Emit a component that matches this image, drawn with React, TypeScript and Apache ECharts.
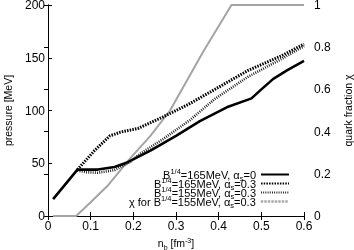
import React, { useEffect, useRef } from 'react';
import * as echarts from 'echarts';

// B^{1/4}=165MeV, alpha_s=0
const nbSolid = [0.012, 0.069, 0.09, 0.117, 0.156, 0.187, 0.211, 0.24, 0.3, 0.356, 0.419, 0.477, 0.5, 0.528, 0.56, 0.6];
const pSolid = [16, 44, 44, 44, 46.5, 51, 56, 62, 76, 90, 103, 111.5, 120, 130, 138, 147];
// B^{1/4}=165MeV, alpha_s=0.3
const nbDash = [0.069, 0.109, 0.145, 0.17, 0.211, 0.27, 0.33, 0.391, 0.469, 0.548, 0.6];
const pDash = [44, 62, 76, 79.5, 83, 94, 106, 120, 138, 152, 163];
// B^{1/4}=155MeV, alpha_s=0.3
const nbDot = [0.069, 0.09, 0.117, 0.156, 0.19, 0.216, 0.27, 0.333, 0.391, 0.469, 0.548, 0.6];
const pDot = [43, 41.5, 41, 43.5, 50.5, 59, 73, 91, 111, 132, 149, 161];
// chi for B^{1/4}=155MeV, alpha_s=0.3
const nbChi = [0.012, 0.066, 0.1, 0.141, 0.192, 0.24, 0.286, 0.325, 0.364, 0.43, 0.6];
const chi = [0, 0, 0.065, 0.146, 0.272, 0.38, 0.5, 0.64, 0.78, 1, 1];

const xTickLabels = ['0', '0.1', '0.2', '0.3', '0.4', '0.5', '0.6'];
const yLeftTickLabels = ['0', '50', '100', '150', '200'];
const yRightTickLabels = ['0', '0.2', '0.4', '0.6', '0.8', '1'];

const seriesNames = ['s165a0', 's165a3', 's155a3', 'chi155'];
const legendLabels = [
  '{n|B}{sup|1/4}{n|=165MeV, α}{sub|s}{n|=0}',
  '{n|B}{sup|1/4}{n|=165MeV, α}{sub|s}{n|=0.3}',
  '{n|B}{sup|1/4}{n|=155MeV, α}{sub|s}{n|=0.3}',
  '{n|χ for B}{sup|1/4}{n|=155MeV, α}{sub|s}{n|=0.3}',
];

const zip = (xs: number[], ys: number[]) => xs.map((x, i) => [x, ys[i]]);

export default function App() {
  const ref = useRef<HTMLDivElement>(null);
  useEffect(() => {
    const chart = echarts.init(ref.current!, null, { renderer: 'svg' });
    const font = 'Liberation Sans';
    const rich: any = {
      n: { fontSize: 11, fontFamily: font, verticalAlign: 'bottom', padding: [0, 0, 2, 0], color: '#000' },
      sup: { fontSize: 7.5, fontFamily: font, verticalAlign: 'bottom', padding: [0, 0, 7, 0], color: '#000' },
      sub: { fontSize: 7.5, fontFamily: font, verticalAlign: 'bottom', padding: [0, 0, 0, 0], color: '#000' },
    };
    const nameRich: any = {
      n: { fontSize: 10.5, fontFamily: font, verticalAlign: 'bottom', padding: [0, 0, 2, 0], color: '#000' },
      sup: { fontSize: 7, fontFamily: font, verticalAlign: 'bottom', padding: [0, 0, 7, 0], color: '#000' },
      sub: { fontSize: 7, fontFamily: font, verticalAlign: 'bottom', padding: [0, 0, 0, 0], color: '#000' },
    };
    const rowCenters = [175, 184, 193, 202];
    const axisLine = { show: true, lineStyle: { color: '#000', width: 1 } };
    const tick = { show: true, inside: true, length: 4, lineStyle: { color: '#000' } };
    const label = { color: '#000', fontFamily: font, fontSize: 12 };
    const legends = seriesNames.map((nm, i) => {
      const lg: any = {
        data: [nm],
        orient: 'vertical',
        right: 64,
        top: rowCenters[i] - 8,
        align: 'right',
        itemWidth: 28,
        itemHeight: 6,
        itemGap: 0,
        padding: 0,
        selectedMode: false,
        itemStyle: { opacity: 0 },
        formatter: () => legendLabels[i],
        textStyle: { fontFamily: font, fontSize: 11, color: '#000', rich },
      };
      if (i === 3) lg.lineStyle = { type: [2.5, 1], color: '#aaa', width: 2.5 };
      return lg;
    });
    chart.setOption({
      animation: false,
      grid: { left: 48, right: 50, top: 5, bottom: 34, outerBoundsMode: 'none', containLabel: false },
      legend: legends,
      xAxis: [
        {
          type: 'value', min: 0, max: 0.6, interval: 0.1, position: 'bottom',
          axisLine, axisTick: tick, splitLine: { show: false },
          axisLabel: { ...label, margin: 4, formatter: (v: number) => xTickLabels[Math.round(v * 10)] },
          name: '{n|n}{sub|b}{n| [fm}{sup|-3}{n|]}', nameLocation: 'middle', nameGap: 13,
          nameTextStyle: { rich: nameRich },
        },
        {
          type: 'value', min: 0, max: 0.6, interval: 0.1, position: 'top',
          axisLine, axisTick: tick, splitLine: { show: false }, axisLabel: { show: false },
        },
      ],
      yAxis: [
        {
          type: 'value', min: 0, max: 200, interval: 50, position: 'left',
          axisLine, axisTick: tick, splitLine: { show: false },
          axisLabel: { ...label, margin: 3, padding: [2, 0, 0, 0], formatter: (v: number) => yLeftTickLabels[Math.round(v / 50)] },
          name: 'pressure [MeV]', nameLocation: 'middle', nameGap: 35, nameRotate: 90,
          nameTextStyle: { color: '#000', fontFamily: font, fontSize: 10.5 },
        },
        {
          type: 'value', min: 0, max: 1, interval: 0.2, position: 'right',
          axisLine, axisTick: tick, splitLine: { show: false },
          axisLabel: { ...label, margin: 10, padding: [2, 0, 0, 0], formatter: (v: number) => yRightTickLabels[Math.round(v * 5)] },
          name: 'quark fraction χ', nameLocation: 'middle', nameGap: 38, nameRotate: 90,
          nameTextStyle: { color: '#000', fontFamily: font, fontSize: 10.5 },
        },
      ],
      series: [
        {
          name: seriesNames[3], type: 'line', yAxisIndex: 1, data: zip(nbChi, chi), symbol: 'none', clip: false,
          lineStyle: { color: '#a4a4a4', width: 2, type: 'solid' }, itemStyle: { color: '#a4a4a4' },
        },
        {
          name: seriesNames[2], type: 'line', data: zip(nbDot, pDot), symbol: 'none',
          lineStyle: { color: '#111', width: 2.6, type: [0.9, 1.3] }, itemStyle: { color: '#111' },
        },
        {
          name: seriesNames[1], type: 'line', data: zip(nbDash, pDash), symbol: 'none',
          lineStyle: { color: '#000', width: 3, type: [1.5, 1.2] }, itemStyle: { color: '#000' },
        },
        {
          name: seriesNames[0], type: 'line', data: zip(nbSolid, pSolid), symbol: 'none',
          lineStyle: { color: '#000', width: 2.6, type: 'solid' }, itemStyle: { color: '#000' },
        },
      ],
    });
    return () => chart.dispose();
  }, []);
  return <div ref={ref} style={{ position: 'fixed', left: 0, top: 0, width: 354, height: 250 }} />;
}
